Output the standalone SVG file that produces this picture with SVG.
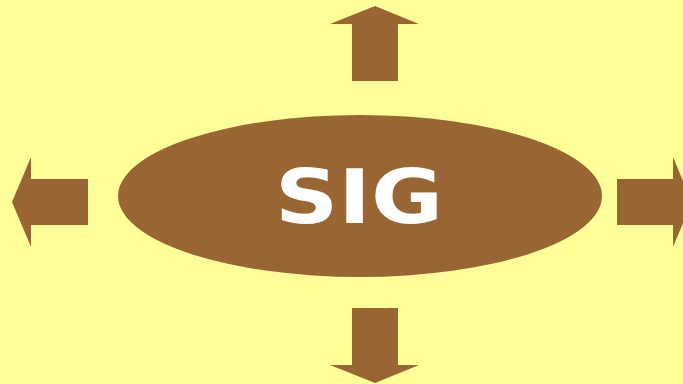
<svg xmlns="http://www.w3.org/2000/svg" width="683" height="384" viewBox="0 0 683 384">
<style>
.arr{fill:#996633}
.lbl{font-family:"DejaVu Sans","Liberation Sans",sans-serif;font-weight:bold;font-size:75px;fill:#ffffff}
</style>
<rect width="683" height="384" fill="#FFFF99"/>
<g id="connectors">
<polygon class="arr" points="352,81 352,24 330,24 375,6 419,24 398,24 398,81"/>
<polygon class="arr" points="352,308 352,365 330,365 375,383 419,365 398,365 398,308"/>
<polygon class="arr" points="88,179 31,179 31,157 12,202 31,247 31,225 88,225"/>
<polygon class="arr" points="617,179 673,179 673,157 692,202 673,247 673,225 617,225"/>
</g>
<g id="sig">
<ellipse cx="360" cy="196" rx="242" ry="81" fill="#996633"/>
<text class="lbl" x="275" y="223" textLength="168" lengthAdjust="spacingAndGlyphs">SIG</text>
</g>
</svg>
